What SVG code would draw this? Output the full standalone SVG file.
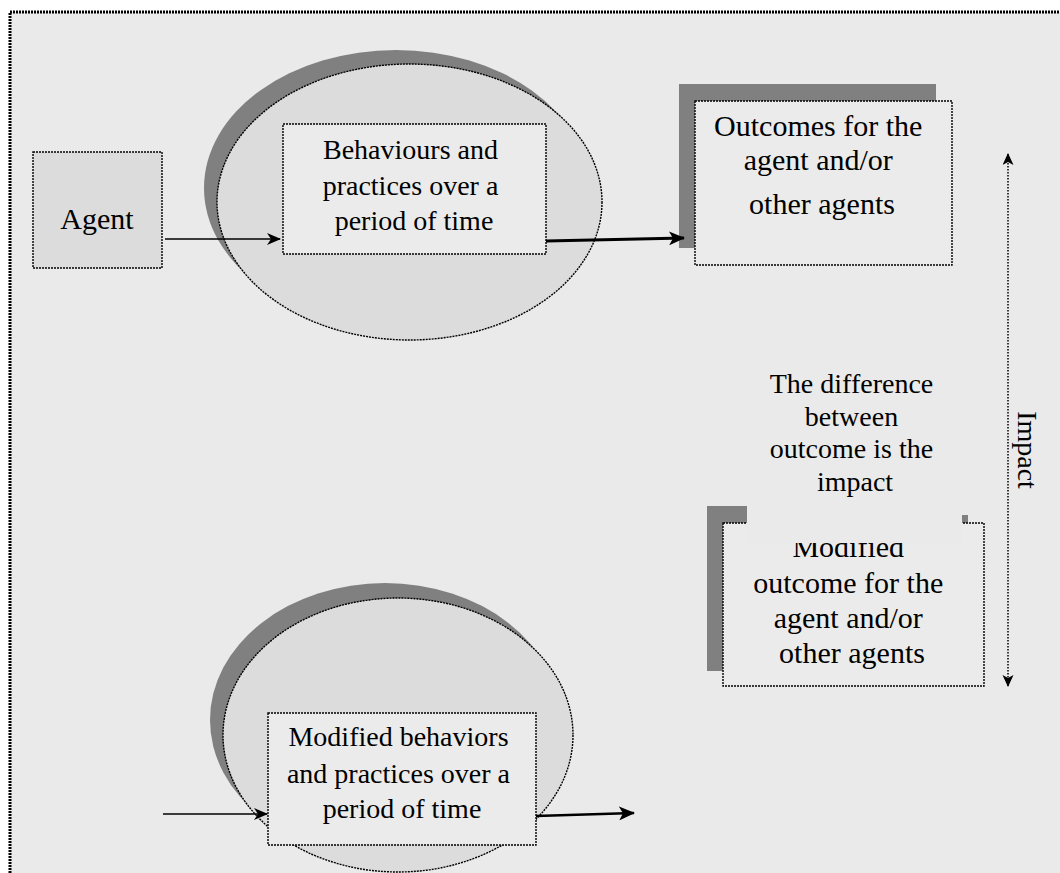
<svg xmlns="http://www.w3.org/2000/svg" width="1060" height="873" viewBox="0 0 1060 873">
  <defs>
    <style>
      text { font-family: "Liberation Serif", "Times New Roman", serif; fill: #000; text-anchor: middle; }
      .t28 { font-size: 28px; }
      .t30 { font-size: 30px; }
      .dot { stroke: #000; stroke-width: 1.4; stroke-dasharray: 2 1; }
      .shadow { fill: #808080; stroke: none; }
      .pale { fill: #dcdcdc; }
      .light { fill: #ebebeb; }
      .wire { stroke: #000; fill: none; }
    </style>
    <marker id="head" markerUnits="userSpaceOnUse" markerWidth="14" markerHeight="12" refX="13" refY="6" orient="auto">
      <path d="M0,0 L14,6 L0,12 L4,6 z" fill="#000"/>
    </marker>
    <marker id="headBig" markerUnits="userSpaceOnUse" markerWidth="16" markerHeight="14" refX="15" refY="7" orient="auto">
      <path d="M0,0 L16,7 L0,14 L4,7 z" fill="#000"/>
    </marker>
    <marker id="tipSmall" markerUnits="userSpaceOnUse" markerWidth="12" markerHeight="12" refX="11" refY="5.5" orient="auto-start-reverse">
      <path d="M0,0 L12,5.5 L0,11 L3,5.5 z" fill="#000"/>
    </marker>
  </defs>

  <!-- page and frame -->
  <rect x="0" y="0" width="1060" height="873" fill="#ffffff"/>
  <rect x="10" y="12" width="1070" height="880" fill="#eaeaea" stroke="#000" stroke-width="3" stroke-dasharray="2 1"/>

  <!-- first cycle -->
  <g id="ellipse-top">
    <ellipse class="shadow" cx="396" cy="188" rx="192" ry="138"/>
    <ellipse class="pale dot" cx="409.5" cy="202" rx="192.5" ry="138"/>
  </g>

  <g id="agent">
    <rect class="pale dot" x="33" y="152" width="129" height="116"/>
    <text class="t30" x="97" y="229">Agent</text>
  </g>

  <g id="behaviours">
    <rect class="light dot" x="283" y="124" width="263" height="130"/>
    <text class="t28">
      <tspan x="414" y="159">Behaviours and</tspan>
      <tspan x="414" y="195">practices over a</tspan>
      <tspan x="414" y="230">period of time</tspan>
    </text>
  </g>

  <g id="outcomes">
    <rect class="shadow" x="679" y="84" width="257" height="164"/>
    <rect class="light dot" x="695" y="101" width="257" height="164"/>
    <text class="t30">
      <tspan x="822" y="136">Outcomes for the</tspan>
      <tspan x="822" y="170">agent and/or</tspan>
      <tspan x="822" y="214">other agents</tspan>
    </text>
  </g>

  <!-- second cycle -->
  <g id="ellipse-bottom">
    <ellipse class="shadow" cx="385" cy="720" rx="175" ry="137"/>
    <ellipse class="pale dot" cx="398" cy="735" rx="175" ry="137"/>
  </g>

  <g id="modified-behaviours">
    <rect class="light dot" x="268" y="713" width="268" height="132"/>
    <text class="t28">
      <tspan x="402" y="746">Modified behaviors</tspan>
      <tspan x="402" y="783">and practices over a</tspan>
      <tspan x="402" y="818">period of time</tspan>
    </text>
  </g>

  <g id="modified-outcome">
    <rect class="shadow" x="707" y="506" width="261" height="165"/>
    <rect class="light dot" x="723" y="523" width="261" height="163"/>
    <text class="t30">
      <tspan x="852" y="557">Modified</tspan>
      <tspan x="852" y="593">outcome for the</tspan>
      <tspan x="852" y="628">agent and/or</tspan>
      <tspan x="852" y="663">other agents</tspan>
    </text>
  </g>

  <!-- caption box sits over the top of the modified outcome box -->
  <g id="difference-note">
    <path d="M747,360 H975 V515 H962 V543 H747 Z" fill="#eaeaea"/>
    <text class="t28">
      <tspan x="855" y="393">The difference</tspan>
      <tspan x="855" y="426">between</tspan>
      <tspan x="855" y="458">outcome is the</tspan>
      <tspan x="855" y="491">impact</tspan>
    </text>
  </g>

  <g id="impact-label">
    <text class="t28" transform="translate(1018,450) rotate(90)" x="0" y="0">Impact</text>
  </g>

  <!-- connectors -->
  <g id="connectors">
    <line class="wire" x1="165" y1="239" x2="280" y2="239" stroke-width="1.5" marker-end="url(#head)"/>
    <line class="wire" x1="546" y1="241" x2="684" y2="238" stroke-width="3" marker-end="url(#headBig)"/>
    <line class="wire" x1="163" y1="814" x2="267" y2="814" stroke-width="1.5" marker-end="url(#head)"/>
    <line class="wire" x1="536" y1="816" x2="634" y2="813" stroke-width="2.5" marker-end="url(#headBig)"/>
    <line class="wire" x1="1008" y1="154" x2="1008" y2="686" stroke-width="1.5" stroke-dasharray="1.5 1.5" marker-start="url(#tipSmall)" marker-end="url(#tipSmall)"/>
  </g>
</svg>
